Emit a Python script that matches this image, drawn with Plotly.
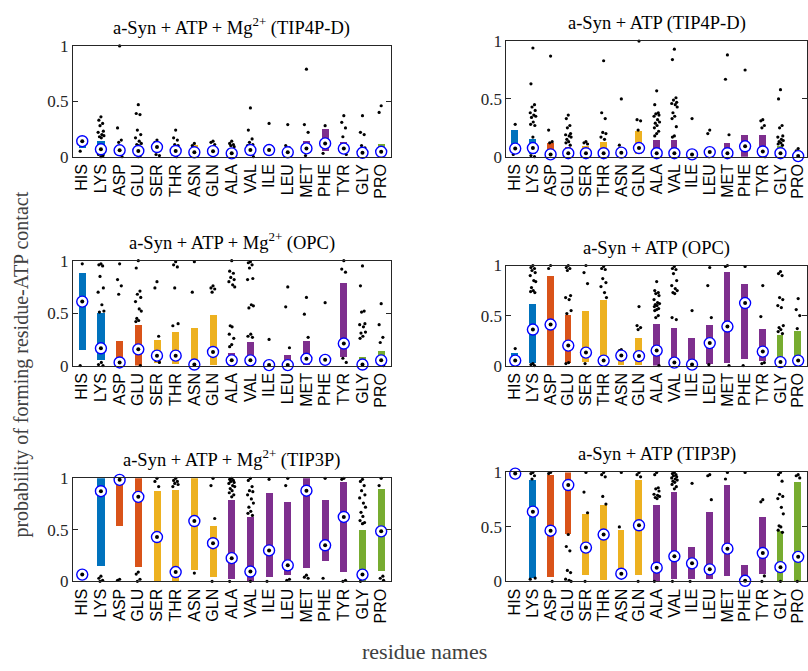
import plotly.graph_objects as go

residues = ["HIS", "LYS", "ASP", "GLU", "SER", "THR", "ASN", "GLN", "ALA",
            "VAL", "ILE", "LEU", "MET", "PHE", "TYR", "GLY", "PRO"]
res_group = ["pos", "pos", "neg", "neg", "pol", "pol", "pol", "pol", "hyd",
             "hyd", "hyd", "hyd", "hyd", "hyd", "hyd", "spc", "spc"]
yticks = [0, 0.5, 1]
ytick_text = ["0", "0.5", "1"]

titles = ["a-Syn + ATP + Mg<sup>2+</sup> (TIP4P-D)", "a-Syn + ATP (TIP4P-D)",
          "a-Syn + ATP + Mg<sup>2+</sup> (OPC)", "a-Syn + ATP (OPC)",
          "a-Syn + ATP + Mg<sup>2+</sup> (TIP3P)", "a-Syn + ATP (TIP3P)"]

# ---- panel 1: Mg, TIP4P-D
p1_q1 = [0.08, 0.02, 0.03, 0.02, 0.06, 0.03, 0.02, 0.03, 0.01, 0.03, 0.04, 0.02, 0.05, 0.05, 0.04, 0.02, 0.03]
p1_med = [0.14, 0.067, 0.058, 0.052, 0.087, 0.052, 0.04, 0.05, 0.03, 0.06, 0.06, 0.04, 0.075, 0.12, 0.073, 0.035, 0.044]
p1_q3 = [0.15, 0.146, 0.08, 0.08, 0.11, 0.08, 0.11, 0.08, 0.06, 0.09, 0.11, 0.06, 0.146, 0.25, 0.135, 0.05, 0.117]
p1_out = [
    [0.16, 0.05],
    [0.36, 0.33, 0.30, 0.28, 0.23, 0.22, 0.20, 0.19, 0.18, 0.17, 0.02, 0.01, 0.0],
    [1.0, 0.26, 0.15, 0.13, 0.0],
    [0.47, 0.39, 0.38, 0.24, 0.20, 0.17, 0.14, 0.12, 0.11, 0.10, 0.02, 0.01, 0.0],
    [0.15, 0.13, 0.12, 0.02, 0.01],
    [0.24, 0.17, 0.15, 0.11, 0.10, 0.02, 0.0],
    [0.12, 0.10],
    [0.14, 0.13, 0.11],
    [0.14, 0.12, 0.11, 0.10, 0.09, 0.06, 0.02, 0.0],
    [0.44, 0.24, 0.16, 0.13, 0.11, 0.10, 0.02, 0.0],
    [0.30],
    [0.29, 0.10, 0.08, 0.03],
    [0.79, 0.29, 0.22, 0.01],
    [0.28, 0.03],
    [0.37, 0.31, 0.26, 0.18, 0.02],
    [0.37, 0.22, 0.20, 0.10, 0.08, 0.06, 0.05, 0.01],
    [0.46, 0.40],
]

# ---- panel 2: no Mg, TIP4P-D
p2_q1 = [0.03, 0.02, 0.0, 0.0, 0.0, 0.0, 0.0, 0.02, 0.0, 0.0, 0.0, 0.0, 0.0, 0.0, 0.0, 0.0, 0.0]
p2_med = [0.07, 0.075, 0.02, 0.03, 0.03, 0.03, 0.035, 0.075, 0.03, 0.03, 0.02, 0.04, 0.03, 0.09, 0.045, 0.03, 0.005]
p2_q3 = [0.23, 0.155, 0.115, 0.08, 0.095, 0.13, 0.08, 0.22, 0.14, 0.14, 0.04, 0.06, 0.12, 0.19, 0.19, 0.095, 0.02]
p2_out = [
    [0.28, 0.02],
    [0.94, 0.63, 0.45, 0.43, 0.40, 0.38, 0.36, 0.35, 0.34, 0.30, 0.28, 0.27, 0.17, 0.01, 0.0],
    [0.87, 0.23, 0.13, 0.12, 0.0],
    [0.36, 0.33, 0.27, 0.25, 0.20, 0.19, 0.18, 0.17, 0.15, 0.13, 0.12, 0.10, 0.0],
    [0.13, 0.12, 0.11],
    [0.83, 0.38, 0.33, 0.21, 0.20, 0.17, 0.15, 0.0],
    [0.50, 0.10],
    [1.0, 0.32, 0.31, 0.23],
    [0.57, 0.45, 0.38, 0.37, 0.36, 0.35, 0.32, 0.30, 0.29, 0.27, 0.25, 0.22, 0.20, 0.18, 0.0],
    [0.93, 0.84, 0.51, 0.49, 0.47, 0.46, 0.45, 0.43, 0.38, 0.35, 0.33, 0.26, 0.18, 0.17, 0.0],
    [0.33, 0.01],
    [0.23, 0.20, 0.07, 0.0],
    [0.88, 0.67, 0.19, 0.0],
    [0.75],
    [0.32, 0.31, 0.27, 0.25, 0.0],
    [0.58, 0.50, 0.27, 0.25, 0.18, 0.17, 0.15, 0.14, 0.13, 0.12, 0.11, 0.10, 0.0],
    [0.07, 0.05, 0.04, 0.03],
]

# ---- panel 3: Mg, OPC
p3_q1 = [0.15, 0.06, 0.0, 0.0, 0.03, 0.02, 0.0, 0.01, 0.0, 0.0, 0.0, 0.0, 0.01, 0.03, 0.09, 0.01, 0.06]
p3_med = [0.61, 0.165, 0.03, 0.155, 0.095, 0.095, 0.01, 0.13, 0.05, 0.05, 0.005, 0.005, 0.065, 0.055, 0.21, 0.01, 0.05]
p3_q3 = [0.885, 0.50, 0.24, 0.39, 0.25, 0.32, 0.36, 0.49, 0.127, 0.23, 0.01, 0.10, 0.24, 0.07, 0.79, 0.09, 0.14]
p3_out = [
    [0.97, 0.0],
    [0.97, 0.96, 0.95, 0.85, 0.74, 0.70, 0.58, 0.52, 0.51, 0.03, 0.01, 0.0],
    [0.97, 0.82, 0.76, 0.68, 0.04, 0.01],
    [1.0, 0.93, 0.71, 0.68, 0.65, 0.61, 0.54, 0.52, 0.45, 0.43, 0.42, 0.0],
    [0.80, 0.74, 0.28, 0.05, 0.03],
    [0.99, 0.96, 0.94, 0.74, 0.40, 0.38],
    [0.99, 0.70],
    [0.76, 0.74, 0.73, 0.70],
    [1.0, 0.90, 0.88, 0.84, 0.82, 0.80, 0.77, 0.75, 0.38, 0.37, 0.30, 0.26, 0.20, 0.18],
    [0.99, 0.98, 0.96, 0.93, 0.83, 0.82, 0.58, 0.57, 0.55, 0.30, 0.28, 0.27],
    [0.25],
    [0.75, 0.56, 0.17],
    [0.65, 0.49, 0.27],
    [0.60],
    [1.0, 0.92, 0.89, 0.07, 0.03],
    [0.95, 0.76, 0.52, 0.51, 0.40, 0.39, 0.37, 0.32, 0.31, 0.28, 0.26, 0.02, 0.0],
    [0.59, 0.39, 0.27, 0.22, 0.0],
]

# ---- panel 4: no Mg, OPC
p4_q1 = [0.0, 0.03, 0.0, 0.03, 0.04, 0.01, 0.01, 0.01, 0.0, 0.0, 0.0, 0.02, 0.035, 0.075, 0.055, 0.0, 0.0]
p4_med = [0.05, 0.36, 0.41, 0.20, 0.13, 0.05, 0.10, 0.095, 0.15, 0.03, 0.01, 0.225, 0.39, 0.625, 0.14, 0.035, 0.05]
p4_q3 = [0.13, 0.62, 0.897, 0.51, 0.55, 0.665, 0.155, 0.28, 0.425, 0.385, 0.28, 0.415, 0.945, 0.82, 0.375, 0.31, 0.355]
p4_out = [
    [0.17],
    [1.0, 0.98, 0.97, 0.95, 0.93, 0.90, 0.85, 0.84, 0.78, 0.75, 0.74, 0.73, 0.02, 0.01, 0.0],
    [1.0, 0.97],
    [1.0, 0.98, 0.97, 0.95, 0.70, 0.68, 0.66, 0.55, 0.52, 0.03, 0.02],
    [1.0, 0.93, 0.82, 0.02],
    [0.99, 0.97, 0.96, 0.87, 0.83, 0.79, 0.73, 0.68],
    [0.16, 0.15],
    [0.59, 0.40, 0.38, 0.36],
    [0.84, 0.75, 0.73, 0.72, 0.70, 0.66, 0.63, 0.62, 0.61, 0.60, 0.59, 0.57, 0.56, 0.55, 0.50, 0.48, 0.0],
    [0.99, 0.97, 0.96, 0.92, 0.85, 0.80, 0.77, 0.75, 0.73, 0.72, 0.48, 0.46, 0.0],
    [0.55],
    [0.98, 0.80, 0.48, 0.01],
    [1.0, 0.99, 0.0],
    [0.99, 0.0],
    [0.80, 0.49, 0.03, 0.02],
    [0.94, 0.92, 0.90, 0.68, 0.66, 0.60, 0.58, 0.40, 0.38, 0.36, 0.34, 0.32, 0.0],
    [0.67, 0.56, 0.50, 0.37],
]

# ---- panel 5: Mg, TIP3P
p5_q1 = [0.05, 0.15, 0.53, 0.14, 0.0, 0.0, 0.11, 0.04, 0.02, 0.0, 0.04, 0.055, 0.125, 0.19, 0.085, 0.0, 0.095]
p5_med = [0.065, 0.875, 0.985, 0.82, 0.43, 0.09, 0.585, 0.37, 0.225, 0.095, 0.30, 0.155, 0.88, 0.35, 0.625, 0.065, 0.485]
p5_q3 = [0.08, 1.0, 0.985, 1.0, 0.87, 0.88, 1.0, 0.53, 0.785, 0.62, 0.85, 0.765, 1.0, 0.785, 0.96, 0.50, 0.89]
p5_out = [
    [],
    [0.05, 0.03, 0.01, 0.0],
    [0.02, 0.01],
    [0.09, 0.07, 0.02, 0.0],
    [1.0, 0.97, 0.92],
    [1.0, 0.98, 0.97, 0.95, 0.94, 0.92],
    [0.08],
    [1.0, 0.93, 0.61, 0.0],
    [1.0, 0.99, 0.98, 0.97, 0.96, 0.95, 0.93, 0.92, 0.90, 0.88, 0.86, 0.84, 0.82, 0.0],
    [1.0, 0.98, 0.92, 0.88, 0.87, 0.84, 0.80, 0.76, 0.72, 0.68, 0.66, 0.64, 0.0],
    [0.99, 0.0],
    [1.0, 0.93, 0.02, 0.01],
    [0.06, 0.04, 0.03],
    [1.0, 0.03],
    [1.0, 0.99, 0.01, 0.0],
    [0.99, 0.97, 0.93, 0.88, 0.84, 0.81, 0.76, 0.72, 0.67, 0.63, 0.59, 0.57, 0.56, 0.0],
    [1.0, 0.93, 0.05, 0.03, 0.01],
]

# ---- panel 6: no Mg, TIP3P
p6_q1 = [0.98, 0.03, 0.035, 0.43, 0.05, 0.005, 0.02, 0.055, 0.0, 0.02, 0.02, 0.02, 0.04, 0.0, 0.065, 0.0, 0.0]
p6_med = [0.99, 0.64, 0.465, 0.885, 0.31, 0.43, 0.07, 0.515, 0.125, 0.23, 0.165, 0.11, 0.30, 0.005, 0.26, 0.13, 0.225]
p6_q3 = [1.0, 0.925, 0.97, 1.0, 0.615, 0.695, 0.47, 0.925, 0.70, 0.82, 0.31, 0.635, 0.88, 0.145, 0.59, 0.455, 0.91]
p6_out = [
    [],
    [1.0, 0.99, 0.97, 0.94, 0.03, 0.02],
    [1.0, 0.99, 0.0],
    [0.43, 0.32, 0.28, 0.10, 0.08, 0.02, 0.01, 0.0],
    [1.0, 0.82, 0.63, 0.0],
    [1.0, 0.98, 0.96, 0.78, 0.71],
    [1.0, 0.50],
    [1.0, 0.98, 0.96, 0.0],
    [1.0, 0.98, 0.86, 0.85, 0.83, 0.80, 0.79, 0.78, 0.77, 0.76, 0.0],
    [1.0, 0.99, 0.98, 0.97, 0.96, 0.95, 0.94, 0.93, 0.92, 0.91, 0.89, 0.87, 0.85, 0.0],
    [0.90, 0.0],
    [0.98, 0.97, 0.75],
    [1.0, 0.94],
    [1.0],
    [0.75, 0.73, 0.05, 0.0],
    [1.0, 0.98, 0.92, 0.80, 0.78, 0.76, 0.68, 0.62, 0.51, 0.50, 0.47, 0.45, 0.0],
    [0.98, 0.97, 0.95, 0.0],
]

panels = [
    (p1_q1, p1_med, p1_q3, p1_out),
    (p2_q1, p2_med, p2_q3, p2_out),
    (p3_q1, p3_med, p3_q3, p3_out),
    (p4_q1, p4_med, p4_q3, p4_out),
    (p5_q1, p5_med, p5_q3, p5_out),
    (p6_q1, p6_med, p6_q3, p6_out),
]

# ---------------- styling / layout ----------------
group_color = {"pos": "#0072BD", "neg": "#D95319", "pol": "#EDB120",
               "hyd": "#7E2F8E", "spc": "#77AC30"}
bar_colors = [group_color[g] for g in res_group]
W, H = 808, 671
# pixel boxes (left, right, top, bottom)
boxes = [(73, 391, 38, 152), (507, 808, 33, 152),
         (73, 391, 259, 367), (507, 808, 264, 367),
         (73, 391, 483, 589), (507, 808, 477, 589)]
jit = [0.0, -0.11, 0.09, -0.05, 0.13, -0.15, 0.05, 0.16, -0.08, 0.02, -0.13, 0.11]
axis_col = "#262626"
serif = "Liberation Serif, Times New Roman, serif"
sans = "Liberation Sans, Arial, sans-serif"

fig = go.Figure()
layout = dict(width=W, height=H, margin=dict(l=0, r=0, t=0, b=0),
              paper_bgcolor="white", plot_bgcolor="white", showlegend=False,
              bargap=0)
annotations = []
xidx = list(range(len(residues)))

for k, (q1, med, q3, outs) in enumerate(panels):
    n = k + 1
    xa = "x" if n == 1 else f"x{n}"
    ya = "y" if n == 1 else f"y{n}"
    l, r, t, b = boxes[k]
    fig.add_trace(go.Bar(x=xidx, y=[hi - lo for lo, hi in zip(q1, q3)], base=q1,
                         width=0.38, marker=dict(color=bar_colors, line=dict(width=0)),
                         xaxis=xa, yaxis=ya, hoverinfo="skip"))
    ox, oy = [], []
    for i, vals in enumerate(outs):
        for j, v in enumerate(vals):
            ox.append(i + jit[j % len(jit)])
            oy.append(v)
    fig.add_trace(go.Scatter(x=ox, y=oy, mode="markers", cliponaxis=False,
                             marker=dict(color="black", size=3.2),
                             xaxis=xa, yaxis=ya, hoverinfo="skip"))
    fig.add_trace(go.Scatter(x=xidx, y=med, mode="markers", cliponaxis=False,
                             marker=dict(symbol="circle", size=11, color="white",
                                         line=dict(color="#0000FF", width=1.4)),
                             xaxis=xa, yaxis=ya, hoverinfo="skip"))
    fig.add_trace(go.Scatter(x=xidx, y=med, mode="markers", cliponaxis=False,
                             marker=dict(color="black", size=4),
                             xaxis=xa, yaxis=ya, hoverinfo="skip"))
    xkey = "xaxis" if n == 1 else f"xaxis{n}"
    ykey = "yaxis" if n == 1 else f"yaxis{n}"
    layout[xkey] = dict(domain=[l / W, r / W], anchor=ya, range=[-0.5, 16.5],
                        tickmode="array", tickvals=xidx, ticktext=residues,
                        tickangle=-90, ticks="", showline=True, mirror=True,
                        linecolor=axis_col, linewidth=1, showgrid=False,
                        zeroline=False,
                        tickfont=dict(family=sans, size=16, color="black"))
    layout[ykey] = dict(domain=[1 - b / H, 1 - t / H], anchor=xa, range=[0, 1],
                        tickmode="array", tickvals=yticks, ticktext=ytick_text,
                        ticks="inside", ticklen=5, tickcolor=axis_col,
                        showline=True, mirror="ticks", linecolor=axis_col,
                        linewidth=1, showgrid=False, zeroline=False,
                        tickfont=dict(family=serif, size=17, color=axis_col))
    annotations.append(dict(text=titles[k], xref="paper", yref="paper",
                            x=(l + r) / 2 / W, y=1 - t / H, xanchor="center",
                            yanchor="bottom", yshift=5, showarrow=False,
                            font=dict(family=serif, size=18.5, color="black")))

annotations.append(dict(text="probability of forming residue-ATP contact",
                        xref="paper", yref="paper", x=22 / W, y=1 - 366 / H,
                        xanchor="center", yanchor="middle", textangle=-90,
                        showarrow=False,
                        font=dict(family=serif, size=20, color="#404040")))
annotations.append(dict(text="residue names", xref="paper", yref="paper",
                        x=425 / W, y=1 - 661 / H, xanchor="center",
                        yanchor="middle", showarrow=False,
                        font=dict(family=serif, size=22, color="#404040")))
layout["annotations"] = annotations
fig.update_layout(**layout)
fig.write_html("out.html")
